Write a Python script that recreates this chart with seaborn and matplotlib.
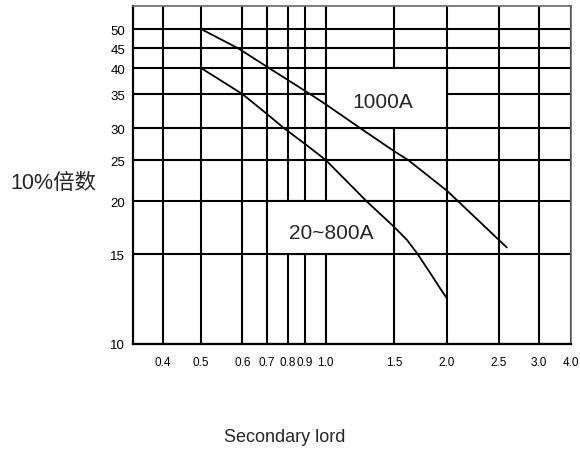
import numpy as np
import pandas as pd
import matplotlib
matplotlib.use("Agg")
import matplotlib.pyplot as plt
import seaborn as sns
from matplotlib.patches import Rectangle

# ---- data ----
x_1000 = [0.5, 0.589, 0.71, 0.923, 1.0, 1.226, 1.5, 1.62, 2.0, 2.1, 2.59]
y_1000 = [50, 45, 40, 35, 33.4, 30, 26.3, 25, 21.2, 20, 15.55]
x_800 = [0.5, 0.6, 0.7, 0.78, 0.9, 1.0, 1.275, 1.5, 1.61, 1.706, 1.83, 1.92, 2.0]
y_800 = [40, 35, 32.0, 30, 27.4, 25, 20, 17.4, 16.2, 15, 13.75, 12.93, 12.3]
series_names = ["1000A", "20~800A"]
x_ticks = [0.4, 0.5, 0.6, 0.7, 0.8, 0.9, 1.0, 1.5, 2.0, 2.5, 3.0, 4.0]
x_tick_labels = ["0.4", "0.5", "0.6", "0.7", "0.8", "0.9", "1.0", "1.5", "2.0", "2.5", "3.0", "4.0"]
y_ticks = [10, 15, 20, 25, 30, 35, 40, 45, 50]
y_tick_labels = ["10", "15", "20", "25", "30", "35", "40", "45", "50"]
x_label = "Secondary lord"
y_label = "10%倍数"

# ---- hand-drawn (quasi-log) axis scales of the original chart ----
x_scale_vals = [0.342, 0.4, 0.5, 0.6, 0.7, 0.8, 0.9, 1.0, 1.5, 2.0, 2.5, 3.0, 4.0]
x_scale_pos = [133.3, 162.7, 201, 242.3, 266.7, 287.7, 305, 325.7, 394, 446.7, 499, 539, 570.7]
y_scale_vals = [10, 15, 20, 25, 30, 35, 40, 45, 50, 56.5]
y_scale_pos = [-345, -255, -202.3, -161, -129, -95, -69, -49.3, -30, -6.7]


def make_scale(vals, pos):
    lv = np.log10(np.asarray(vals, float))
    p = np.asarray(pos, float)
    s_lo = (p[1] - p[0]) / (lv[1] - lv[0])
    s_hi = (p[-1] - p[-2]) / (lv[-1] - lv[-2])

    def fwd(x):
        x = np.asarray(x, float)
        l = np.log10(np.clip(x, 1e-9, None))
        out = np.interp(l, lv, p)
        out = np.where(l < lv[0], p[0] + (l - lv[0]) * s_lo, out)
        out = np.where(l > lv[-1], p[-1] + (l - lv[-1]) * s_hi, out)
        return out

    def inv(y):
        y = np.asarray(y, float)
        l = np.interp(y, p, lv)
        l = np.where(y < p[0], lv[0] + (y - p[0]) / s_lo, l)
        l = np.where(y > p[-1], lv[-1] + (y - p[-1]) / s_hi, l)
        return 10 ** l

    return fwd, inv


df = pd.concat([
    pd.DataFrame({"x": x_1000, "y": y_1000, "series": series_names[0]}),
    pd.DataFrame({"x": x_800, "y": y_800, "series": series_names[1]}),
])

sns.set_style("white")
plt.rcParams["font.family"] = ["Liberation Sans", "Noto Sans CJK SC", "DejaVu Sans"]

fig = plt.figure(figsize=(5.8, 4.52), dpi=100)
ax = fig.add_axes([133.3 / 580, 107 / 452, (570.7 - 133.3) / 580, (345 - 6.7) / 452])

ax.set_xscale("function", functions=make_scale(x_scale_vals, x_scale_pos))
ax.set_yscale("function", functions=make_scale(y_scale_vals, y_scale_pos))
ax.set_xlim(0.342, 4.0)
ax.set_ylim(10, 56.5)

sns.lineplot(data=df, x="x", y="y", hue="series", palette=["black", "black"],
             sort=False, estimator=None, linewidth=1.3, legend=False, ax=ax, zorder=4)

ax.set_xticks(x_ticks)
ax.set_xticklabels(x_tick_labels)
ax.set_yticks(y_ticks)
ax.set_yticklabels(y_tick_labels)
ax.minorticks_off()
ax.tick_params(axis="x", length=0, pad=9, labelsize=8.5, colors="black")
ax.tick_params(axis="y", length=0, pad=6, labelsize=9.5, colors="black")
ax.set_axisbelow(True)
ax.grid(True, which="major", color="black", linewidth=1.5)

# label boxes that hide the grid inside them
ax.add_patch(Rectangle((1.0, 30), 1.0, 10, facecolor="white", edgecolor="black",
                       linewidth=1.5, zorder=2))
ax.add_patch(Rectangle((0.7, 15), 0.8, 5, facecolor="white", edgecolor="black",
                       linewidth=1.5, zorder=2))
ax.text(1.40, 33.8, series_names[0], fontsize=15, ha="center", va="center", zorder=5)
ax.text(1.032, 16.9, series_names[1], fontsize=15, ha="center", va="center", zorder=5)

for side in ["left", "bottom"]:
    ax.spines[side].set_color("black")
    ax.spines[side].set_linewidth(1.6)
for side in ["top", "right"]:
    ax.spines[side].set_color("#666666")
    ax.spines[side].set_linewidth(1.2)

ax.set_xlabel(x_label, fontsize=13)
ax.xaxis.set_label_coords((285 - 133.3) / 437.4, (345 - 438) / 338.3)
ax.xaxis.label.set_va("center")
ax.set_ylabel(y_label, fontsize=15.5, rotation=0)
ax.yaxis.set_label_coords((10 - 133.3) / 437.4, (345 - 183) / 338.3)
ax.yaxis.label.set_ha("left")
ax.yaxis.label.set_va("center")

fig.savefig("out.png", dpi=100)
